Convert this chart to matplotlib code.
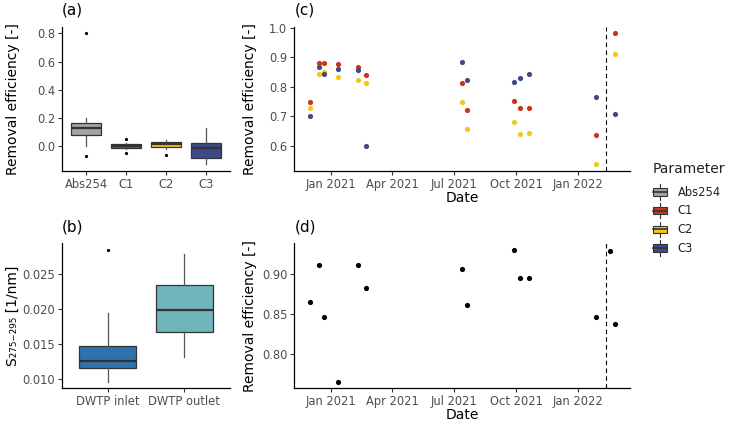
import numpy as np
import pandas as pd
import matplotlib
matplotlib.use("Agg")
import matplotlib.pyplot as plt
import matplotlib.dates as mdates
from matplotlib.ticker import FormatStrFormatter
from matplotlib.patches import Rectangle, Patch
from matplotlib.lines import Line2D
from matplotlib.legend_handler import HandlerBase

plt.rcParams['font.family'] = ['DejaVu Sans']

# ---- data -------------------------------------------------------------
params = ['Abs254', 'C1', 'C2', 'C3']
param_colors = ['#A3A3A3', '#C8361A', '#F5C518', '#3D4A8A']
# box stats: whislo, q1, med, q3, whishi, fliers
a_whislo = [0.002, -0.020, -0.020, -0.129]
a_q1 = [0.078, -0.014, -0.002, -0.080]
a_med = [0.132, 0.000, 0.016, -0.014]
a_q3 = [0.167, 0.014, 0.031, 0.024]
a_whishi = [0.200, 0.020, 0.045, 0.127]
a_fliers = [[0.800, -0.071], [0.054, -0.049], [-0.064], []]

sites = ['DWTP inlet', 'DWTP outlet']
site_colors = ['#2E73AE', '#6FB5BA']
b_whislo = [0.00957, 0.01314]
b_q1 = [0.01152, 0.01671]
b_med = [0.01252, 0.01986]
b_q3 = [0.01471, 0.02333]
b_whishi = [0.01943, 0.02781]
b_fliers = [[0.02838], []]

dates_c = pd.to_datetime(['2020-11-30', '2020-12-14', '2020-12-21', '2021-01-11',
                          '2021-02-10', '2021-02-22', '2021-07-13', '2021-07-21',
                          '2021-09-28', '2021-10-07', '2021-10-21', '2022-01-28',
                          '2022-02-24'])
c1 = [0.750, 0.882, 0.880, 0.876, 0.869, 0.839, 0.813, 0.722, 0.753, 0.728, 0.730, 0.637, 0.982]
c2 = [0.728, 0.844, 0.850, 0.835, 0.823, 0.812, 0.750, 0.657, 0.682, 0.640, 0.645, 0.538, 0.910]
c3 = [0.702, 0.869, 0.844, 0.860, 0.857, 0.600, 0.883, 0.824, 0.817, 0.831, 0.845, 0.766, 0.708]

dates_d = pd.to_datetime(['2020-11-30', '2020-12-14', '2020-12-21', '2021-01-11',
                          '2021-02-10', '2021-02-22', '2021-07-13', '2021-07-21',
                          '2021-09-28', '2021-10-07', '2021-10-21', '2022-01-28',
                          '2022-02-17', '2022-02-24'])
d_vals = [0.865, 0.911, 0.846, 0.766, 0.911, 0.883, 0.906, 0.862, 0.930, 0.895,
          0.895, 0.847, 0.929, 0.838]

cutoff_date = pd.Timestamp('2022-02-11')

# ---- layout -----------------------------------------------------------
W, H = 732, 422
fig = plt.figure(figsize=(W / 100, H / 100), dpi=100)


def px_axes(l, t, r, b):
    return fig.add_axes([l / W, 1 - b / H, (r - l) / W, (b - t) / H])


ax_a = px_axes(62, 26.7, 230, 171)
ax_c = px_axes(294.3, 26.7, 630, 170.7)
ax_b = px_axes(62, 243.3, 230, 388.3)
ax_d = px_axes(294.3, 243.3, 630, 388.3)

EDGE = '#333333'
TICKC = '#4D4D4D'


def style(ax):
    for s in ['top', 'right']:
        ax.spines[s].set_visible(False)
    for s in ['left', 'bottom']:
        ax.spines[s].set_color('black')
        ax.spines[s].set_linewidth(0.9)
    ax.tick_params(length=3, width=0.8, color=EDGE, labelcolor=TICKC,
                   labelsize=8.3, pad=2)


def boxes(ax, lo, q1, med, q3, hi, fl, colors, labels):
    stats = []
    for i in range(len(labels)):
        stats.append(dict(whislo=lo[i], q1=q1[i], med=med[i], q3=q3[i],
                          whishi=hi[i], fliers=fl[i], label=labels[i]))
    bp = ax.bxp(stats, widths=0.75, patch_artist=True, showcaps=False,
                boxprops=dict(edgecolor=EDGE, linewidth=0.9),
                medianprops=dict(color=EDGE, linewidth=1.6),
                whiskerprops=dict(color='#555555', linewidth=0.9),
                flierprops=dict(marker='o', markersize=1.3, markerfacecolor='black',
                                markeredgecolor='black'))
    for patch, col in zip(bp['boxes'], colors):
        patch.set_facecolor(col)
    ax.set_xlim(0.4, len(labels) + 0.6)
    ax.margins(y=0.05)


# (a)
boxes(ax_a, a_whislo, a_q1, a_med, a_q3, a_whishi, a_fliers, param_colors, params)
style(ax_a)
ax_a.set_yticks([0.0, 0.2, 0.4, 0.6, 0.8])
ax_a.yaxis.set_major_formatter(FormatStrFormatter('%.1f'))
ax_a.set_ylabel('Removal efficiency [-]', fontsize=10)

# (b)
boxes(ax_b, b_whislo, b_q1, b_med, b_q3, b_whishi, b_fliers, site_colors, sites)
style(ax_b)
ax_b.set_yticks([0.010, 0.015, 0.020, 0.025])
ax_b.yaxis.set_major_formatter(FormatStrFormatter('%.3f'))
ax_b.set_ylabel('S\u2082\u2087\u2085\u208b\u2082\u2089\u2085 [1/nm]', fontsize=10)

# (c)
for vals, col in zip([c1, c2, c3], param_colors[1:]):
    ax_c.scatter(dates_c, vals, s=14, color=col, linewidths=0, zorder=3)
ax_c.axvline(cutoff_date, color='black', linestyle=(0, (4, 3)), linewidth=0.8)
ax_c.margins(0.05)
ax_c.set_yticks([0.6, 0.7, 0.8, 0.9, 1.0])
ax_c.yaxis.set_major_formatter(FormatStrFormatter('%.1f'))

# (d)
ax_d.scatter(dates_d, d_vals, s=14, color='black', linewidths=0, zorder=3)
ax_d.axvline(cutoff_date, color='black', linestyle=(0, (4, 3)), linewidth=0.8)
ax_d.margins(0.05)
ax_d.set_yticks([0.80, 0.85, 0.90])
ax_d.yaxis.set_major_formatter(FormatStrFormatter('%.2f'))

for ax in [ax_c, ax_d]:
    style(ax)
    ax.set_xlim(ax_c.get_xlim())
    ax.xaxis.set_major_locator(mdates.MonthLocator(bymonth=[1, 4, 7, 10]))
    ax.xaxis.set_major_formatter(mdates.DateFormatter('%b %Y'))
    ax.set_xlabel('Date', fontsize=10, labelpad=0)
    ax.set_ylabel('Removal efficiency [-]', fontsize=10)
    ax.yaxis.set_label_coords(-0.111, 0.5)

for ax in [ax_a, ax_b]:
    ax.yaxis.set_label_coords(-0.25, 0.5)

for ax, lab in zip([ax_a, ax_b, ax_c, ax_d], ['(a)', '(b)', '(c)', '(d)']):
    ax.text(0.0, 1.115, lab, transform=ax.transAxes, fontsize=11,
            ha='left', va='center')


# ---- legend with boxplot keys ----------------------------------------
class BoxKey(HandlerBase):
    def create_artists(self, legend, orig_handle, xdescent, ydescent,
                       width, height, fontsize, trans):
        cx = width / 2 - xdescent
        cy = height / 2 - ydescent
        whisk = Line2D([cx, cx], [cy - 0.65 * height, cy + 0.65 * height],
                       color=EDGE, lw=0.8, transform=trans)
        box = Rectangle((-xdescent, cy - 0.32 * height), width, 0.64 * height,
                        facecolor=orig_handle.get_facecolor(), edgecolor=EDGE,
                        lw=0.8, transform=trans)
        med = Line2D([-xdescent, width - xdescent], [cy, cy], color=EDGE,
                     lw=1.2, transform=trans)
        return [whisk, box, med]


handles = [Patch(facecolor=c) for c in param_colors]
leg = fig.legend(handles, params, loc='upper left',
                 bbox_to_anchor=(653 / W, 1 - 162 / H), frameon=False,
                 title='Parameter', title_fontsize=10, fontsize=8.3,
                 handler_map={Patch: BoxKey()}, handlelength=1.25,
                 handleheight=1.2, handletextpad=0.9, labelspacing=0.5,
                 borderpad=0, borderaxespad=0, alignment='left')
leg._legend_box.sep = 7
leg.get_title().set_color('#222222')
for t in leg.get_texts():
    t.set_color('#222222')

fig.savefig('out.png', dpi=100)
